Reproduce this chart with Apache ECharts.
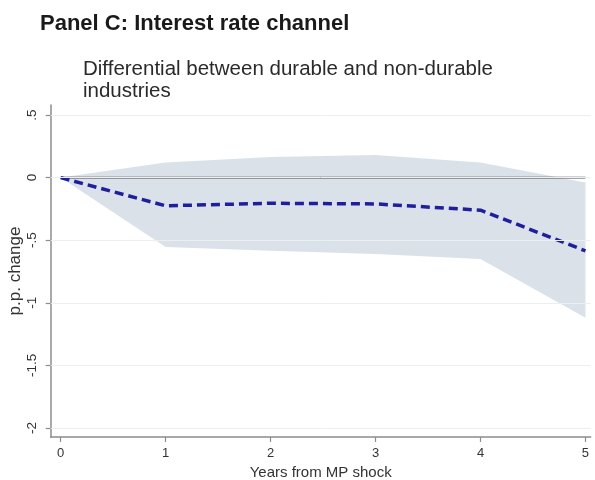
<!DOCTYPE html>
<html>
<head>
<meta charset="utf-8">
<script src="https://cdn.jsdelivr.net/npm/echarts@6/dist/echarts.min.js"></script>
<style>
  html, body { margin: 0; padding: 0; background: #fff; }
  #chart { width: 595px; height: 480px; }
</style>
</head>
<body>
<div id="chart"></div>
<script>
// Years after the monetary policy shock
const years = [0, 1, 2, 3, 4, 5];
// Point estimate of the durable vs non-durable differential (p.p.)
const estimate = [0, -0.225, -0.205, -0.21, -0.26, -0.585];
// Confidence band bounds
const upperBound = [0, 0.12, 0.165, 0.18, 0.12, -0.04];
const lowerBound = [0, -0.555, -0.585, -0.61, -0.65, -1.12];
// Axis ticks
const xTicks = [0, 1, 2, 3, 4, 5];
const yTicks = [-2, -1.5, -1, -0.5, 0, 0.5];

const FONT = '"Liberation Sans", Arial, sans-serif';

const fmtY = v => (v === 0 ? '0' : String(v).replace('0.', '.'));

const chart = echarts.init(document.getElementById('chart'), null, { renderer: 'canvas' });

chart.setOption({
  backgroundColor: '#ffffff',
  animation: false,
  title: [
    {
      text: 'Panel C: Interest rate channel',
      left: 40, top: 13, padding: 0,
      textStyle: { fontFamily: FONT, fontSize: 22, fontWeight: 'bold', color: '#1a1a1a' }
    },
    {
      text: 'Differential between durable and non-durable\nindustries',
      left: 83, top: 58, padding: 0,
      textStyle: { fontFamily: FONT, fontSize: 20.5, fontWeight: 'normal', color: '#2a2a2a', lineHeight: 22 }
    }
  ],
  grid: { left: 50.7, top: 105, width: 540, height: 332, containLabel: false, outerBoundsMode: 'none' },
  xAxis: {
    type: 'value',
    min: -0.095, max: 5.05,
    name: 'Years from MP shock',
    nameLocation: 'middle',
    nameGap: 27,
    nameTextStyle: { fontFamily: FONT, fontSize: 15, color: '#333' },
    axisLine: { show: true, onZero: false, lineStyle: { color: '#8c8c8c', width: 1.5 } },
    axisTick: { show: true, length: 5, customValues: xTicks, lineStyle: { color: '#8c8c8c', width: 1.2 } },
    axisLabel: { customValues: xTicks, fontFamily: FONT, fontSize: 13, color: '#333', margin: 10 },
    splitLine: { show: false }
  },
  yAxis: {
    type: 'value',
    min: -2.072, max: 0.58,
    name: 'p.p. change',
    nameLocation: 'middle',
    nameRotate: 90,
    nameGap: 27,
    nameMoveOverlap: false,
    nameTextStyle: { fontFamily: FONT, fontSize: 17, color: '#333' },
    axisLine: { show: true, onZero: false, lineStyle: { color: '#8c8c8c', width: 1.5 } },
    axisTick: { show: true, length: 5, customValues: yTicks, lineStyle: { color: '#8c8c8c', width: 1.2 } },
    axisLabel: { customValues: yTicks, rotate: 90, formatter: fmtY, fontFamily: FONT, fontSize: 13.5, color: '#333', margin: 11 },
    splitLine: { show: false }
  },
  series: [
    {
      // faint horizontal gridlines at each y tick
      type: 'line',
      data: [],
      z: 1,
      silent: true,
      markLine: {
        silent: true,
        symbol: 'none',
        label: { show: false },
        lineStyle: { color: '#eceff2', width: 1, type: 'solid' },
        data: yTicks.map(v => ({ yAxis: v }))
      }
    },
    {
      // confidence band
      type: 'custom',
      z: 2,
      silent: true,
      data: years.map((x, i) => [x, upperBound[i], lowerBound[i]]),
      renderItem: function (params, api) {
        if (params.dataIndex !== 0) return null;
        const pts = [];
        for (let i = 0; i < years.length; i++) pts.push(api.coord([years[i], upperBound[i]]));
        for (let i = years.length - 1; i >= 0; i--) pts.push(api.coord([years[i], lowerBound[i]]));
        return {
          type: 'polygon',
          shape: { points: pts },
          style: { fill: 'rgba(186,198,213,0.52)', stroke: null }
        };
      }
    },
    {
      // zero reference line
      type: 'line',
      z: 3,
      silent: true,
      symbol: 'none',
      data: [[years[0], 0], [years[years.length - 1], 0]],
      lineStyle: { color: '#4a4a4a', width: 1.8 }
    },
    {
      // point estimate
      type: 'line',
      z: 4,
      silent: true,
      symbol: 'none',
      data: years.map((x, i) => [x, estimate[i]]),
      lineStyle: { color: '#1f1f9e', width: 3.5, type: [9, 5] }
    }
  ]
});
</script>
</body>
</html>
